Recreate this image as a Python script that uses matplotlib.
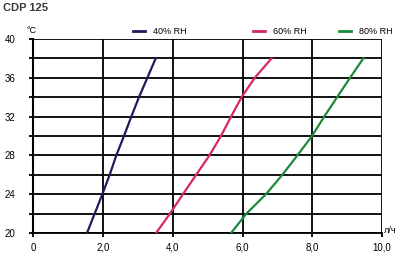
import numpy as np
import matplotlib.pyplot as plt

# temperature, deg C
temp = [20, 22, 24, 26, 28, 30, 32, 34, 36, 38]
# capacity, l/h
rh40 = [1.54, 1.76, 1.98, 2.19, 2.38, 2.60, 2.81, 3.03, 3.27, 3.51]
rh60 = [3.52, 3.92, 4.29, 4.67, 5.05, 5.38, 5.67, 5.97, 6.35, 6.83]
rh80 = [5.67, 6.11, 6.67, 7.14, 7.57, 7.99, 8.34, 8.71, 9.08, 9.46]

series_names = ['40% RH', '60% RH', '80% RH']
colors = ['#1c1c5c', '#d8275a', '#1c8a3c']

x_ticks = [0, 2, 4, 6, 8, 10]
x_labels = ['0', '2,0', '4,0', '6,0', '8,0', '10,0']
y_ticks = [20, 24, 28, 32, 36, 40]

plt.rcParams['font.family'] = ['Liberation Sans', 'DejaVu Sans']

fig = plt.figure(figsize=(4.01, 2.58), dpi=100)
ax = fig.add_axes([0.083, 0.097, 0.87, 0.752])

# grid
for yy in range(20, 41, 2):
    ax.axhline(yy, color='black', lw=1.3, zorder=1)
for xx in [2, 4, 6, 8, 10]:
    ax.axvline(xx, color='black', lw=1.3, zorder=1)

for vals, c in zip([rh40, rh60, rh80], colors):
    ax.plot(vals, temp, color=c, lw=1.6, zorder=3)

ax.set_xlim(0, 10)
ax.set_ylim(20, 40)
ax.set_xticks(x_ticks)
ax.set_xticklabels(x_labels)
ax.set_yticks(range(20, 41, 2))
ax.set_yticklabels([str(v) if v in y_ticks else '' for v in range(20, 41, 2)])
ax.tick_params(axis='both', length=3, width=1.3, labelsize=7, colors='black')
ax.tick_params(axis='y', pad=10)
ax.tick_params(axis='x', pad=4)
for s in ['top', 'right']:
    ax.spines[s].set_visible(False)
ax.spines['left'].set_linewidth(1.5)
ax.spines['bottom'].set_linewidth(1.3)

fig.text(0.0075, 0.957, 'CDP 125', fontsize=8, fontweight='bold', color='#3a3a3a',
         va='baseline')
fig.text(0.065, 0.873, '°C', fontsize=6.5)
fig.text(0.958, 0.097, 'л/ч', fontsize=6.5, va='baseline')

# legend along the top
leg_x = [0.332, 0.632, 0.846]
for name, c, lx in zip(series_names, colors, leg_x):
    fig.add_artist(plt.Line2D([lx, lx + 0.03], [0.878, 0.878], color=c, lw=2))
    fig.text(lx + 0.049, 0.878, name, fontsize=6.5, va='center')

fig.savefig('out.png', dpi=100, facecolor='white')
